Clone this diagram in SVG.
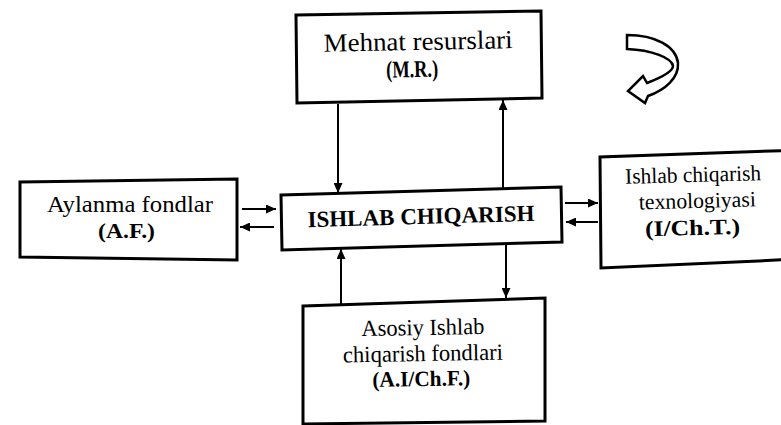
<svg xmlns="http://www.w3.org/2000/svg" width="781" height="425" viewBox="0 0 781 425">
<defs>
<style>
.box{fill:#fff;stroke:#000;stroke-width:3;stroke-linejoin:miter}
.t{font-family:"Liberation Serif","Times New Roman",serif;fill:#000;text-anchor:middle}
.b{font-weight:bold}
.conn line{stroke:#000;stroke-width:2;marker-end:url(#ah)}
</style>
<marker id="ah" markerWidth="10" markerHeight="9" refX="10" refY="4.5" orient="auto" markerUnits="userSpaceOnUse">
<path d="M0,0 L10,4.5 L0,9 Z" fill="#000"/>
</marker>
</defs>
<rect width="781" height="425" fill="#fff"/>

<g id="node-mehnat">
<polygon class="box" points="296,15 541,11 542,98 297,103"/>
<g transform="rotate(-1.1 418 60)">
<text class="t" x="418.5" y="50" font-size="26" textLength="189" lengthAdjust="spacingAndGlyphs">Mehnat resurslari</text>
<text class="t b" x="412" y="77" font-size="24" textLength="52" lengthAdjust="spacingAndGlyphs">(M.R.)</text>
</g>
</g>

<g id="node-ishlab">
<polygon class="box" points="281,195 561,187 562,242 282,250"/>
<text class="t b" x="421" y="224" font-size="23" textLength="227" lengthAdjust="spacingAndGlyphs" transform="rotate(-1.6 421 218)">ISHLAB CHIQARISH</text>
</g>

<g id="node-aylanma">
<polygon class="box" points="20,182 237,179 237,260 20,257"/>
<text class="t" x="130" y="212" font-size="23" textLength="166" lengthAdjust="spacingAndGlyphs">Aylanma fondlar</text>
<text class="t b" x="126.5" y="238" font-size="22" textLength="57" lengthAdjust="spacingAndGlyphs">(A.F.)</text>
</g>

<g id="node-texnologiya">
<polygon class="box" points="800,150 600,157 601,268 800,259"/>
<g transform="rotate(-1.5 694 208)">
<text class="t" x="694" y="182" font-size="22" textLength="136" lengthAdjust="spacingAndGlyphs">Ishlab chiqarish</text>
<text class="t" x="697.5" y="208" font-size="22" textLength="117" lengthAdjust="spacingAndGlyphs">texnologiyasi</text>
<text class="t b" x="692" y="235" font-size="22" textLength="95" lengthAdjust="spacingAndGlyphs">(I/Ch.T.)</text>
</g>
</g>

<g id="node-asosiy">
<polygon class="box" points="303,306 545,298 545,421 303,424"/>
<g transform="rotate(-1 423 360)">
<text class="t" x="423.5" y="335" font-size="23" textLength="123" lengthAdjust="spacingAndGlyphs">Asosiy Ishlab</text>
<text class="t" x="423" y="361" font-size="23" textLength="160" lengthAdjust="spacingAndGlyphs">chiqarish fondlari</text>
<text class="t b" x="421" y="386" font-size="22" textLength="98" lengthAdjust="spacingAndGlyphs">(A.I/Ch.F.)</text>
</g>
</g>

<g id="connectors" class="conn">
<line x1="338" y1="104" x2="338" y2="193"/>
<line x1="503" y1="188" x2="503" y2="100"/>
<line x1="341" y1="304" x2="341" y2="249"/>
<line x1="506" y1="243" x2="506" y2="298"/>
<line x1="242" y1="209" x2="276" y2="209"/>
<line x1="274" y1="227" x2="240" y2="227"/>
<line x1="565" y1="203" x2="598" y2="203"/>
<line x1="598" y1="222" x2="566" y2="222"/>
</g>

<g id="curved-arrow">
<path d="M627,35 C655,35 676,46 678,63 C679,78 665,90 648,96 L645,103 L628,91 L643,76 L647,83 C660,78 673,72 673,66 C672,58 652,50 627,49 Z" fill="#fff" stroke="#000" stroke-width="2.5" stroke-linejoin="miter"/>
</g>
</svg>
